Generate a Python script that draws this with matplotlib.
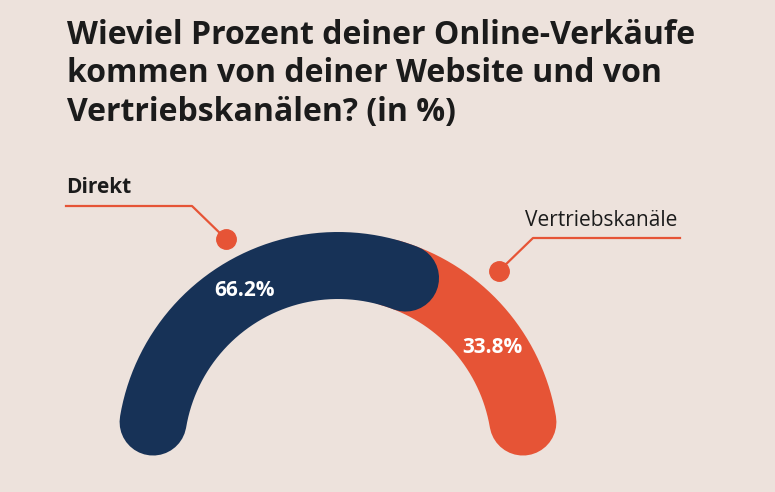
import numpy as np
import matplotlib.pyplot as plt

# data
labels = ['Direkt', 'Vertriebskanäle']
shares = [66.2, 33.8]
colors = ['#173257', '#E65436']
title_lines = ['Wieviel Prozent deiner Online-Verkäufe',
               'kommen von deiner Website und von',
               'Vertriebskanälen? (in %)']

bg = '#EDE2DC'
dark = '#1B1B1B'

plt.rcParams['font.family'] = ['Open Sans', 'DejaVu Sans']

fig = plt.figure(figsize=(7.75, 4.92), dpi=100, facecolor=bg)
ax = fig.add_axes([0, 0, 1, 1])
ax.set_facecolor(bg)
ax.set_xlim(0, 775)
ax.set_ylim(492, 0)
ax.set_aspect('equal')
ax.axis('off')

# gauge geometry (pixels)
cx, cy = 338, 453
r = 187.5
width_px = 67
lw = width_px * 72 / 100
start, stop = 170.5, 9.5
scale_sweep = 153.5


def arc(a0, a1, color):
    t = np.radians(np.linspace(a0, a1, 200))
    ax.plot(cx + r * np.cos(t), cy - r * np.sin(t), color=color, lw=lw,
            solid_capstyle='round', zorder=2)


# orange runs the full arc, navy is drawn over it
navy_end = start - shares[0] / 100 * scale_sweep
arc(navy_end + 5, stop, colors[1])
arc(start, navy_end, colors[0])

# value labels
mids = [(start + navy_end) / 2, (navy_end + stop) / 2 - 5]
for m, s in zip(mids, shares):
    t = np.radians(m)
    ax.text(cx + r * np.cos(t) - 1, cy - r * np.sin(t), f'{s}%', color='white',
            fontsize=15, fontweight='bold', ha='center', va='center', zorder=3)

# leader lines
ax.plot([66, 192, 226], [206, 206, 239], color=colors[1], lw=1.6, zorder=1)
ax.plot(226, 239, 'o', ms=14, color=colors[1], zorder=1)
ax.text(66, 193, labels[0], fontsize=15, fontweight='bold', color=dark,
        ha='left', va='baseline')

ax.plot([680, 533, 499], [238, 238, 271], color=colors[1], lw=1.6, zorder=1)
ax.plot(499, 271, 'o', ms=14, color=colors[1], zorder=1)
ax.text(677, 226, labels[1], fontsize=15, color=dark, ha='right', va='baseline')

for i, line in enumerate(title_lines):
    ax.text(67, 44 + i * 38.5, line, fontsize=23, fontweight='bold',
            color=dark, ha='left', va='baseline')

fig.savefig('out.png', dpi=100, facecolor=bg)
